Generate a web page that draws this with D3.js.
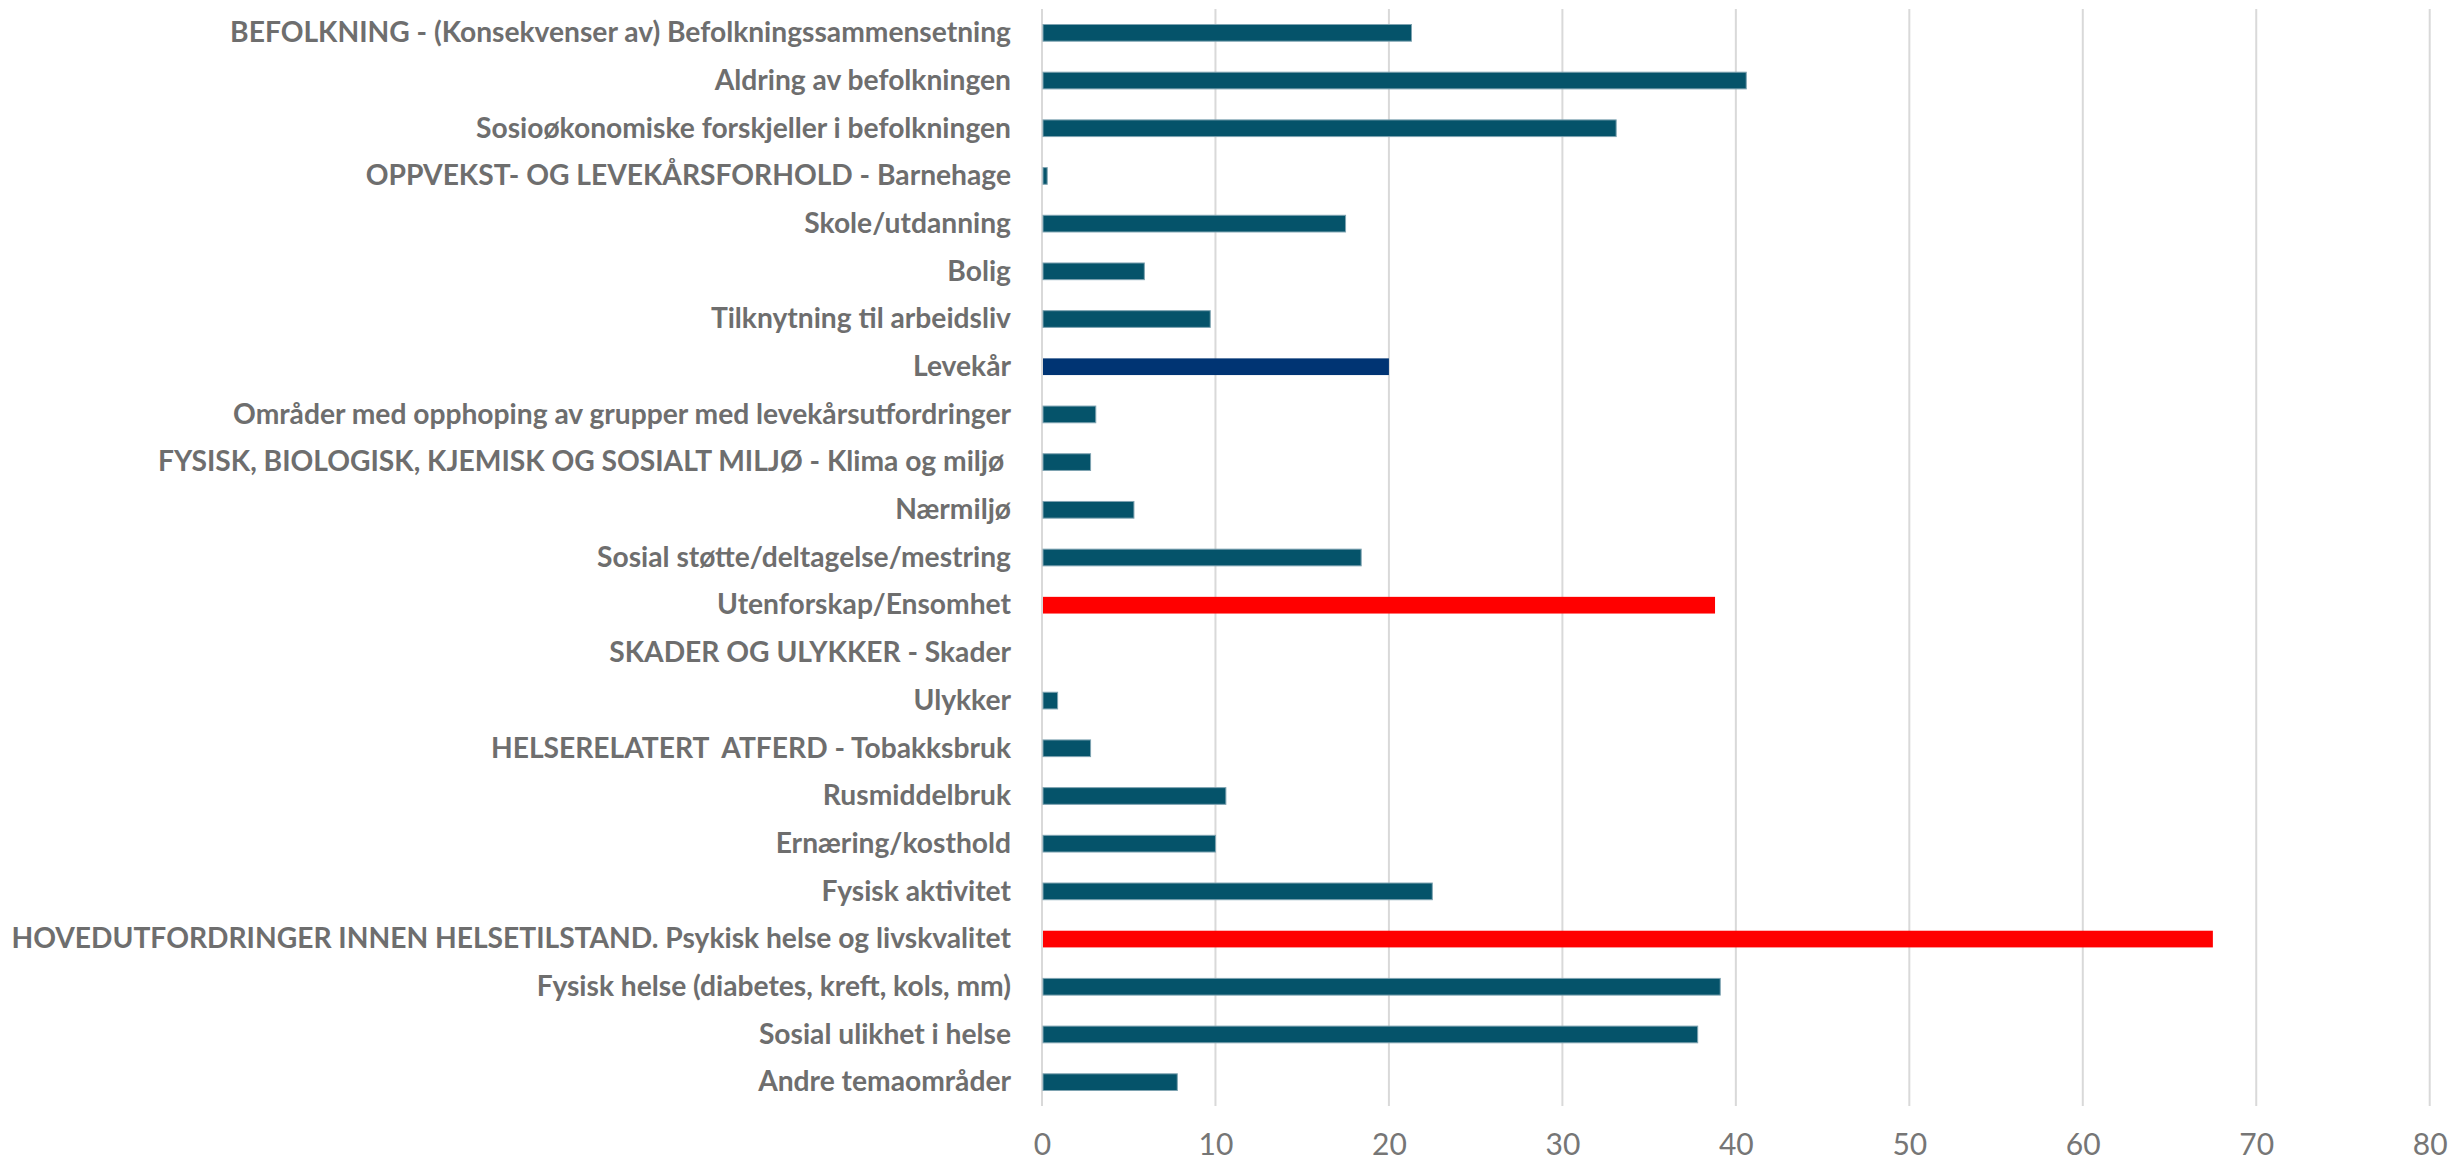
<!DOCTYPE html>
<head>
<meta charset="utf-8">
<script src="https://d3js.org/d3.v7.min.js"></script>
</head>
<body style="margin:0;background:#fff">
<style>
  * { font-family: Lato, "Open Sans", sans-serif; }
</style>
<div id="viz"></div>
<script>

// categories top to bottom
var categories = [
  "BEFOLKNING - (Konsekvenser av) Befolkningssammensetning",
  "Aldring av befolkningen",
  "Sosioøkonomiske forskjeller i befolkningen",
  "OPPVEKST- OG LEVEKÅRSFORHOLD - Barnehage",
  "Skole/utdanning",
  "Bolig",
  "Tilknytning til arbeidsliv",
  "Levekår",
  "Områder med opphoping av grupper med levekårsutfordringer",
  "FYSISK, BIOLOGISK, KJEMISK OG SOSIALT MILJØ - Klima og miljø ",
  "Nærmiljø",
  "Sosial støtte/deltagelse/mestring",
  "Utenforskap/Ensomhet",
  "SKADER OG ULYKKER - Skader",
  "Ulykker",
  "HELSERELATERT  ATFERD - Tobakksbruk",
  "Rusmiddelbruk",
  "Ernæring/kosthold",
  "Fysisk aktivitet",
  "HOVEDUTFORDRINGER INNEN HELSETILSTAND. Psykisk helse og livskvalitet",
  "Fysisk helse (diabetes, kreft, kols, mm)",
  "Sosial ulikhet i helse",
  "Andre temaområder"
];

var values = [21.3, 40.6, 33.1, 0.3, 17.5, 5.9, 9.7, 20.0, 3.1, 2.8, 5.3, 18.4,
              38.8, 0, 0.9, 2.8, 10.6, 10.0, 22.5, 67.5, 39.1, 37.8, 7.8];

// highlight groups: 0 = normal, 1 = levekår, 2 = red
var highlight = [0,0,0,0,0,0,0,1,0,0,0,0,2,0,0,0,0,0,0,2,0,0,0];
var colors = ["#05536a", "#003473", "#ff0000"];

var xTicks = [0, 10, 20, 30, 40, 50, 60, 70, 80];

var data = categories.map(function(c, i) {
  return {cat: c, val: values[i], hl: highlight[i]};
});

var W = 2451, H = 1162;
var margin = {top: 9, right: 22, bottom: 56, left: 1042};
var width = W - margin.left - margin.right,
    height = H - margin.top - margin.bottom;

var svg = d3.select("#viz")
  .append("svg")
    .attr("width", W)
    .attr("height", H)
  .append("g")
    .attr("transform", "translate(" + margin.left + "," + margin.top + ")");

var x = d3.scaleLinear()
  .domain([0, 80])
  .range([0, width + 0.7]);

var y = d3.scaleBand()
  .domain(categories)
  .range([0, height])
  .paddingInner(0.65)
  .paddingOuter(0.325);

// vertical gridlines
svg.append("g")
  .selectAll("line")
  .data(xTicks)
  .join("line")
    .attr("x1", function(d) { return x(d); })
    .attr("x2", function(d) { return x(d); })
    .attr("y1", 0)
    .attr("y2", height)
    .attr("stroke", "#d9d9d9")
    .attr("stroke-width", 2);

// bars
svg.append("g")
  .selectAll("rect")
  .data(data)
  .join("rect")
    .attr("x", x(0) + 1)
    .attr("y", function(d) { return y(d.cat); })
    .attr("width", function(d) { return Math.max(0, x(d.val) - x(0) - 1); })
    .attr("height", y.bandwidth())
    .attr("fill", function(d) { return colors[d.hl]; })
    .attr("stroke", function(d) { return d.hl == 0 ? "#7ea3b1" : "none"; })
    .attr("stroke-width", 1);

// x axis labels
var xAxis = svg.append("g")
  .attr("transform", "translate(0," + height + ")")
  .call(d3.axisBottom(x).tickValues(xTicks).tickSize(0).tickPadding(22));
xAxis.select(".domain").remove();
xAxis.selectAll("text")
  .style("font-size", "30px")
  .style("font-family", "Lato")
  .attr("fill", "#767676")
  .attr("dy", "0.9em");

// y axis labels
var yAxis = svg.append("g")
  .call(d3.axisLeft(y).tickSize(0).tickPadding(31));
yAxis.select(".domain").remove();
var labels = yAxis.selectAll("text")
  .style("font-size", "29px")
  .style("font-weight", "bold")
  .style("font-family", "Lato")
  .style("white-space", "pre")
  .attr("fill", "#6e6e6e");

// squeeze labels horizontally so the longest one fits the left margin
var maxLen = 0;
labels.each(function() { maxLen = Math.max(maxLen, this.getComputedTextLength()); });
var sx = Math.min(1, 1000 / maxLen);
labels.each(function() {
  var t = d3.select(this);
  var tx = +t.attr("x");
  t.attr("x", 0).attr("transform", "translate(" + tx + ",0) scale(" + sx + ",1)");
});

</script>
</body>
